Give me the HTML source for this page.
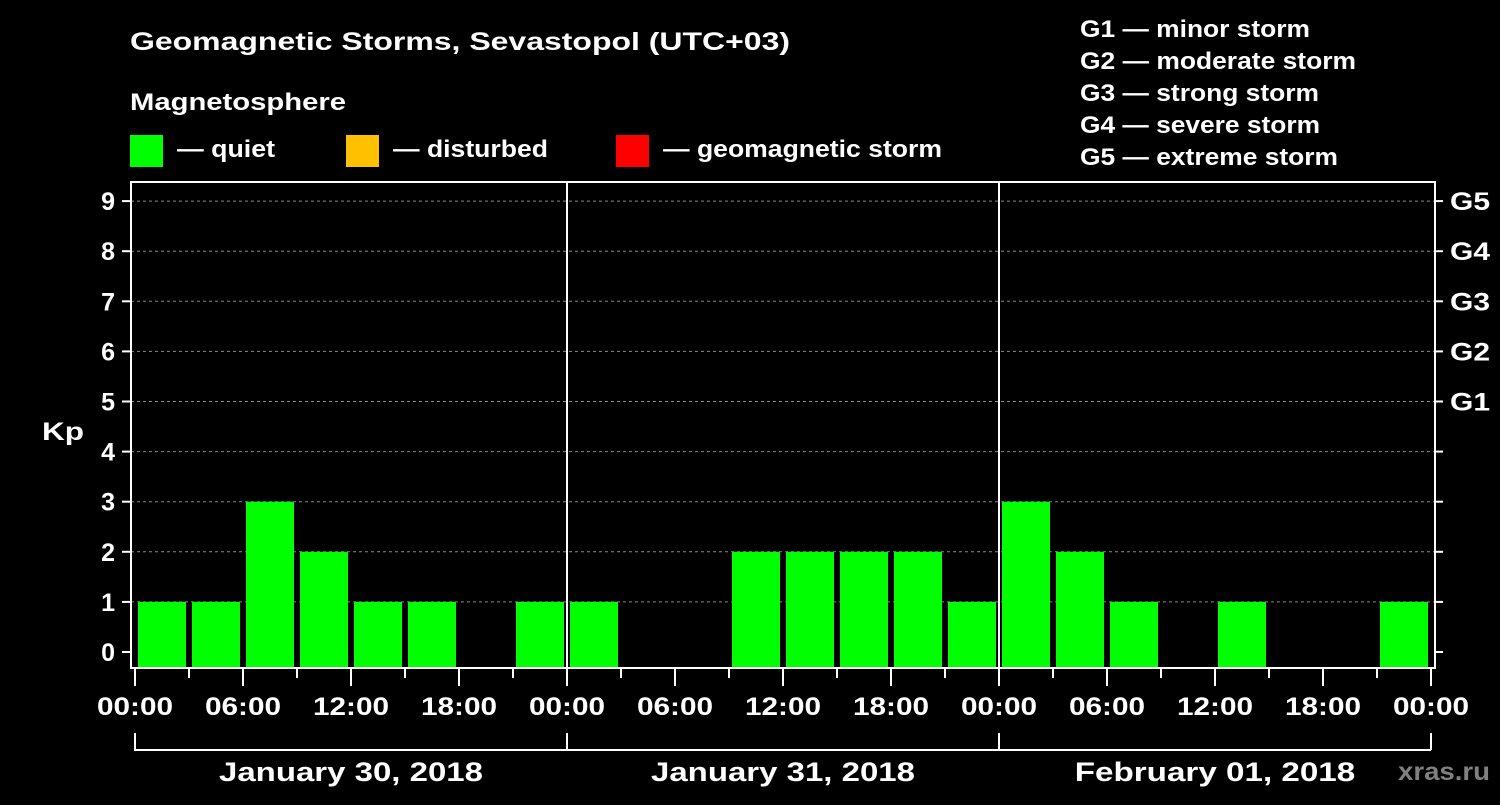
<!DOCTYPE html>
<html><head><meta charset="utf-8"><style>
body{margin:0;background:#000;width:1500px;height:800px;overflow:hidden}
svg text{font-family:"Liberation Sans",Arial,sans-serif;font-weight:bold;fill:#fff}
</style></head><body>
<svg id="c" width="1500" height="800" font-family="Liberation Sans, Arial, sans-serif" font-weight="bold">
<text x="130" y="50" font-size="25" textLength="660" lengthAdjust="spacingAndGlyphs">Geomagnetic Storms, Sevastopol (UTC+03)</text>
<text x="130" y="110" font-size="24" textLength="216" lengthAdjust="spacingAndGlyphs">Magnetosphere</text>
<g><rect x="130" y="135" width="33" height="32" fill="#00ff00"/><text x="177" y="157" font-size="24" textLength="98" lengthAdjust="spacingAndGlyphs">— quiet</text></g>
<g><rect x="346" y="135" width="33" height="32" fill="#ffc000"/><text x="393" y="157" font-size="24" textLength="155" lengthAdjust="spacingAndGlyphs">— disturbed</text></g>
<g><rect x="616" y="135" width="33" height="32" fill="#ff0000"/><text x="663" y="157" font-size="24" textLength="279" lengthAdjust="spacingAndGlyphs">— geomagnetic storm</text></g>
<g font-size="24">
<text x="1080" y="37" textLength="230" lengthAdjust="spacingAndGlyphs">G1 — minor storm</text>
<text x="1080" y="69" textLength="276" lengthAdjust="spacingAndGlyphs">G2 — moderate storm</text>
<text x="1080" y="101" textLength="239" lengthAdjust="spacingAndGlyphs">G3 — strong storm</text>
<text x="1080" y="133" textLength="240" lengthAdjust="spacingAndGlyphs">G4 — severe storm</text>
<text x="1080" y="165" textLength="258" lengthAdjust="spacingAndGlyphs">G5 — extreme storm</text></g>
<text x="42" y="440" font-size="25" textLength="42" lengthAdjust="spacingAndGlyphs">Kp</text>
<text x="1398" y="780" font-size="25" style="fill:#808080" textLength="92" lengthAdjust="spacingAndGlyphs">xras.ru</text>
<g id="chartg"></g>
</svg>
<script>
const days=["January 30, 2018","January 31, 2018","February 01, 2018"];
const kp=[1,1,3,2,1,1,0,1, 1,0,0,2,2,2,2,1, 3,2,1,0,1,0,0,1];
const yTicks=[0,1,2,3,4,5,6,7,8,9];
const gLabels=["G1","G2","G3","G4","G5"];
const xLabels=["00:00","06:00","12:00","18:00"];
const NS="http://www.w3.org/2000/svg";
const grp=document.getElementById('chartg');
const x0=135,dayW=432,binW=dayW/8,pL=131,pR=1435,pT=182,pB=668;
const yS=v=>652-v*50.1;
const xS=h=>x0+h*binW/3;
function mk(t,a){const e=document.createElementNS(NS,t);for(const k in a)e.setAttribute(k,a[k]);grp.appendChild(e);return e;}
yTicks.forEach(v=>{
 if(v>0){const l=mk('line',{x1:pL,x2:pR,y1:yS(v),y2:yS(v),stroke:'#888','stroke-dasharray':'3,3','stroke-width':1});
 
 }
 const t=mk('line',{x1:122,x2:pL,y1:yS(v),y2:yS(v),stroke:'#fff','stroke-width':2});
 
 
 const r=mk('line',{x1:pR,x2:pR+8,y1:yS(v),y2:yS(v),stroke:'#fff','stroke-width':2});
 
 
 const tx=mk('text',{x:115,y:yS(v)+9,'font-size':25,'text-anchor':'end'});tx.textContent=v;
 
 
});
gLabels.forEach((s,i)=>{const tx=mk('text',{x:1450,y:yS(5+i)+9,'font-size':25,textLength:40,lengthAdjust:'spacingAndGlyphs'});tx.textContent=s;
 
 });
kp.forEach((v,i)=>{if(v<=0)return;
 const c=v>=5?'#ff0000':(v>=4?'#ffc000':'#00ff00');
 const r=mk('rect',{x:xS(i*3)+3,width:binW-6,y:yS(v),height:pB-1-yS(v),fill:c});
 
 });
const fr=mk('rect',{x:pL,y:pT,width:pR-pL,height:pB-pT,fill:'none',stroke:'#fff','stroke-width':2});


for(let d=1;d<days.length;d++){const l=mk('line',{x1:xS(d*24),x2:xS(d*24),y1:pT,y2:pB,stroke:'#fff','stroke-width':2});
 
 }
for(let h=0;h<=days.length*24;h+=3){const maj=h%6==0;
 const l=mk('line',{x1:xS(h),x2:xS(h),y1:pB,y2:maj?686:678,stroke:'#fff','stroke-width':2});
 
 
 if(maj){const tx=mk('text',{x:xS(h),y:715,'font-size':25,'text-anchor':'middle',textLength:76,lengthAdjust:'spacingAndGlyphs'});tx.textContent=xLabels[(h/6)%4];
 
 }}
days.forEach((d,i)=>{
 const a=xS(i*24),b=xS((i+1)*24);
 const p=mk('path',{d:`M${a} 733V750H${b}`+(i==days.length-1?`M${b} 733V750`:''),stroke:'#fff','stroke-width':2,fill:'none'});
 
 
 const tx=mk('text',{x:(a+b)/2,y:781,'font-size':27,'text-anchor':'middle',textLength:d.length*16.5,lengthAdjust:'spacingAndGlyphs'});tx.textContent=d;
 
 
});
</script>
</body></html>
